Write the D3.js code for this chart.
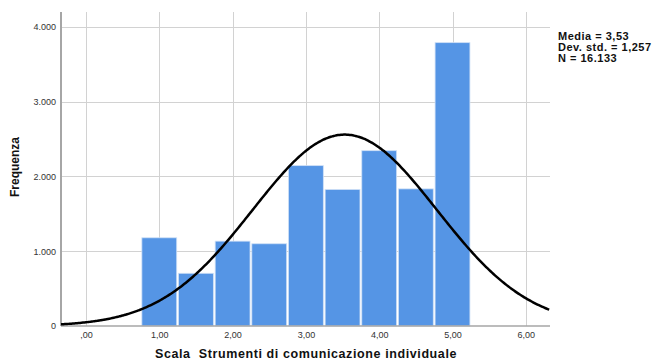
<!DOCTYPE html>
<html>
<head>
<meta charset="utf-8">
<script src="https://cdn.jsdelivr.net/npm/d3@7"></script>
<style>
  html, body { margin: 0; padding: 0; background: #ffffff; }
  svg { display: block; font-family: "Liberation Sans", Arial, sans-serif; }
  text { white-space: pre; }
</style>
</head>
<body>
<svg id="chart" width="658" height="361"></svg>
<script>
// Histogram bins (centre of each 0,5-wide class) and their frequencies
const binCenters = [1.0, 1.5, 2.0, 2.5, 3.0, 3.5, 4.0, 4.5, 5.0];
const frequencies = [1180, 705, 1135, 1100, 2145, 1826, 2345, 1834, 3790];
const binWidth = 0.5;

// Summary statistics used for the normal curve and the legend box
const mean = 3.53;
const stdDev = 1.257;
const totalN = 16133;
const statLabels = ["Media = 3,53", "Dev. std. = 1,257", "N = 16.133"];

// Axis ticks and their labels (Italian number format)
const xTicks = [0, 1, 2, 3, 4, 5, 6];
const xTickLabels = [",00", "1,00", "2,00", "3,00", "4,00", "5,00", "6,00"];
const yTicks = [0, 1000, 2000, 3000, 4000];
const yTickLabels = ["0", "1.000", "2.000", "3.000", "4.000"];

const xTitle = "Scala  Strumenti di comunicazione individuale";
const yTitle = "Frequenza";

const svg = d3.select("#chart");
const plot = { left: 61, right: 550, top: 12, bottom: 326 };

const x = d3.scaleLinear().domain([-0.341, 6.33]).range([plot.left, plot.right]);
const y = d3.scaleLinear().domain([0, 4200]).range([plot.bottom, plot.top]);

// Grid lines
const grid = svg.append("g").attr("stroke", "#d2d2d2").attr("stroke-width", 1);
grid.selectAll("line.v").data(xTicks).join("line")
  .attr("x1", d => Math.round(x(d)) + 0.5).attr("x2", d => Math.round(x(d)) + 0.5)
  .attr("y1", plot.top).attr("y2", plot.bottom);
grid.selectAll("line.h").data(yTicks.slice(1)).join("line")
  .attr("x1", plot.left).attr("x2", plot.right)
  .attr("y1", d => Math.round(y(d)) + 0.5).attr("y2", d => Math.round(y(d)) + 0.5);

// Bars
svg.append("g").selectAll("rect").data(binCenters).join("rect")
  .attr("x", (d) => x(d - binWidth / 2) + 0.9)
  .attr("width", (d) => x(d + binWidth / 2) - x(d - binWidth / 2) - 1.8)
  .attr("y", (d, i) => y(frequencies[i]))
  .attr("height", (d, i) => y(0) - y(frequencies[i]))
  .attr("fill", "#5595e5")
  .attr("stroke", "#cfe0f6")
  .attr("stroke-width", 0.8);

// Axes
const xAxis = d3.axisBottom(x).tickValues(xTicks)
  .tickFormat((d, i) => xTickLabels[i]).tickSize(0).tickPadding(6);
const gx = svg.append("g").attr("transform", `translate(0,${plot.bottom})`).call(xAxis);
gx.select(".domain").attr("stroke", "#a6a6a6").attr("stroke-width", 1.5)
  .attr("d", `M${plot.left},0H${plot.right}`);
gx.selectAll("text").attr("font-size", 9).attr("fill", "#333").attr("font-family", "Liberation Sans, Arial, sans-serif");

const yAxis = d3.axisLeft(y).tickValues(yTicks)
  .tickFormat((d, i) => yTickLabels[i]).tickSize(0).tickPadding(5);
const gy = svg.append("g").attr("transform", `translate(${plot.left},0)`).call(yAxis);
gy.select(".domain").attr("stroke", "#a6a6a6").attr("stroke-width", 2)
  .attr("d", `M0,${plot.top}V${plot.bottom}`);
gy.selectAll("text").attr("font-size", 9).attr("fill", "#333").attr("font-family", "Liberation Sans, Arial, sans-serif");

// Normal curve scaled to the histogram counts
const normal = v => totalN * binWidth / (stdDev * Math.sqrt(2 * Math.PI)) *
  Math.exp(-0.5 * Math.pow((v - mean) / stdDev, 2));
const curveX = d3.range(x.domain()[0], x.domain()[1] + 0.001, 0.02);
const line = d3.line().x(v => x(v)).y(v => y(normal(v))).curve(d3.curveBasis);
svg.append("path").datum(curveX)
  .attr("d", line)
  .attr("fill", "none")
  .attr("stroke", "#000")
  .attr("stroke-width", 2.5);

// Axis titles
svg.append("text")
  .attr("x", 306).attr("y", 358)
  .attr("text-anchor", "middle")
  .attr("font-size", 12.5).attr("font-weight", "bold")
  .attr("letter-spacing", 0.6)
  .attr("fill", "#111")
  .text(xTitle);

svg.append("text")
  .attr("transform", "translate(19,167) rotate(-90)")
  .attr("text-anchor", "middle")
  .attr("font-size", 12).attr("font-weight", "bold")
  .attr("fill", "#111")
  .text(yTitle);

// Statistics box
svg.append("g").selectAll("text").data(statLabels).join("text")
  .attr("x", 558).attr("y", (d, i) => 40 + i * 11)
  .attr("font-size", 11).attr("font-weight", "bold")
  .attr("letter-spacing", 0.5)
  .attr("fill", "#111")
  .text(d => d);
</script>
</body>
</html>
